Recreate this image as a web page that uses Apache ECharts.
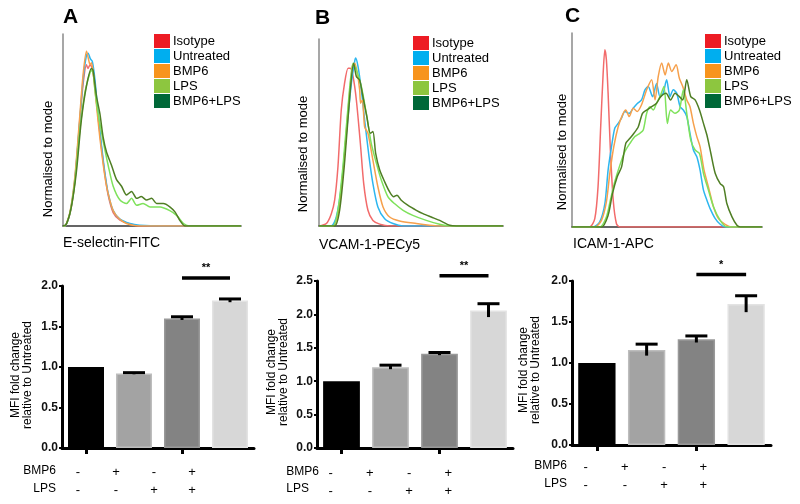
<!DOCTYPE html>
<html><head><meta charset="utf-8">
<script src="https://cdn.jsdelivr.net/npm/echarts@6/dist/echarts.min.js"></script>
<style>html,body{margin:0;padding:0;background:#fff}#c{width:800px;height:504px}</style>
</head><body><div id="c"></div>
<script>
// ---------- DATA ----------
const seriesNames = ['Isotype', 'Untreated', 'BMP6', 'LPS', 'BMP6+LPS'];
const conditions = ['Untreated', 'BMP6', 'LPS', 'BMP6+LPS'];
const bmp6Signs = ['-', '+', '-', '+'];
const lpsSigns = ['-', '-', '+', '+'];
const histXTitles = ['E-selectin-FITC', 'VCAM-1-PECy5', 'ICAM-1-APC'];
const panelLetters = ['A', 'B', 'C'];

// Histograms: [fluorescence (% of axis), count normalised to mode (% of axis height)]
const histA_Isotype = [[0,0],[0.9,0],[3.8,6],[6.6,23],[9.4,54],[11.3,74],[13.2,84],[14,82],[15.2,84],[16.5,82],[18,72],[19.7,57],[21.6,41],[23.5,27],[25.4,16],[28.2,7],[32,3],[37.6,1],[43,0],[100,0]];
const histA_Untreated = [[0,0],[0.9,0],[3.8,6.3],[6.6,24],[9.4,55],[11.3,76.6],[13.2,89],[14.1,90],[15.4,87],[16.5,85.6],[17.9,76.6],[19.7,58.6],[21.6,42.3],[23.5,28],[25.4,17],[28.2,8],[32,3.6],[37.6,1.3],[43,0.4],[56,0],[100,0]];
const histA_BMP6 = [[0,0],[0.9,0],[3.8,6.8],[6.6,25],[9.4,57],[11.3,79],[13.2,91],[14.3,87],[15.2,84],[16,85],[17.2,78],[18.8,63],[20.7,46],[22.6,32],[24.4,21],[26.3,13.5],[28.2,8],[30,5.4],[32.9,2.8],[35.7,1.3],[40,0.3],[45,0],[100,0]];
const histA_LPS = [[0,0],[0.9,0],[3.8,6.3],[6.6,22.5],[9.4,49.5],[12.2,69],[14.7,78.4],[16,81],[16.9,80],[17.9,71],[19.7,58.6],[22.6,44],[25.4,31.5],[28.2,20.7],[32,13.5],[35.7,11.7],[38.5,14.4],[41.4,10.8],[45,11.7],[48.9,9.9],[54.5,9.9],[60,8],[64,5.4],[67.7,1.3],[71.4,0],[100,0]];
const histA_BMP6LPS = [[0,0],[1.9,1],[4.7,10],[7.5,28],[10.3,55],[13.2,73],[16,82],[16.9,81],[18.8,67.6],[20.7,58.6],[22.6,46],[24.4,38.7],[27.3,31.5],[30,24.3],[32.9,20.7],[35.7,16.2],[38.5,18],[41.4,14.4],[44,15.3],[47,13.5],[49.8,14.4],[52.6,11.7],[56.4,11.7],[60,10],[63,7.2],[65.8,2.7],[68.6,0],[100,0]];

const histB_Isotype = [[0,0],[4,1.3],[6.7,6.6],[8.5,13.8],[10.3,31.7],[12.1,62],[13.9,76.4],[15.8,84.4],[17,84.4],[18.5,80],[20.3,67.4],[22.5,44],[24.3,22.7],[26.6,8.4],[29.3,3],[33,1],[38.4,0],[100,0]];
const histB_Untreated = [[0,0],[6.7,0],[9.4,4.8],[12.1,21],[14.9,49.6],[17.6,76.4],[19.4,88],[19.9,89.8],[21.2,85.3],[23,72.8],[24.8,56.7],[27.2,37],[29.3,22.7],[32,10.2],[35.7,3.9],[40.2,1.3],[45.6,0],[100,0]];
const histB_BMP6 = [[0,0],[7.6,0],[10.3,6.6],[13,28],[15.8,62],[18.1,85.3],[19.4,87],[20.8,81.8],[22.1,72.8],[22.6,65.7],[23.6,67.4],[24.8,53],[26.6,49.6],[29.3,35.2],[32,21],[34.8,10.2],[38.4,4.8],[43.8,2.7],[52.9,1.3],[60,0.4],[65,0],[100,0]];
const histB_LPS = [[0,0],[7.6,0],[10.3,8.4],[13,31.7],[15.8,63.9],[18.5,87],[20.3,83.5],[23,74.6],[25.7,60.3],[28.4,44.2],[31.2,33.5],[33.9,24.5],[37.5,15.6],[41,12],[45.7,8.4],[51,5.7],[58.3,3],[65.6,0.9],[71,0],[100,0]];
const histB_BMP6LPS = [[0,0],[8.5,0],[11.2,8.4],[14,35],[16.7,69],[18.8,87],[20.3,80],[22.1,78],[23.9,69],[26,58.5],[27.9,49.6],[29.3,50.5],[30.8,38.8],[33,29.9],[35.7,23.6],[38.4,18.2],[40.6,15.6],[42.4,16.5],[44.7,13.8],[48.4,11],[52.9,8.4],[56.5,6.6],[61,4.8],[65.6,3],[71,0.4],[74.6,0],[100,0]];

const histC_Isotype = [[0,0],[9.3,0],[12,4.3],[13.7,20.7],[15.1,51.7],[16.4,79.3],[17.3,91.4],[18.1,86.2],[19,69],[20.2,39.7],[21.7,13.8],[23.4,1.7],[25.2,0],[100,0]];
const histC_Untreated = [[0,0],[11.1,0],[14.6,2.6],[17.3,12],[19,29.3],[20.8,41.4],[22.5,50.9],[24.3,53.4],[26,56],[27.8,59.5],[30.1,58.6],[32.2,61.2],[34.5,63.8],[36.6,65.5],[38.4,70.7],[40.1,72.4],[42.4,67.2],[44.5,74],[46.3,67.2],[48,69],[49.8,75.9],[51.6,67.2],[53.3,70.7],[55.1,69],[56.9,62],[58.6,60.3],[60.4,57],[62.1,48.3],[63.9,39.7],[65.7,36.2],[67.4,29.3],[69.2,19],[71,13.8],[72.7,9.5],[75.4,4.3],[78,1.4],[80.6,0],[100,0]];
const histC_BMP6 = [[0,0],[12,0],[15.5,3.4],[18.1,12.9],[19.9,27.6],[22,41.4],[24.3,51.7],[26.6,57.8],[28.3,60.3],[30.1,56.9],[32.2,61.2],[34.3,59.5],[36.6,63],[39.3,70.7],[41.9,75.9],[43.7,65.5],[45.4,77.6],[47.2,84.5],[49,78.4],[50.7,84.5],[52.5,80.2],[54.8,83.6],[56.5,76.7],[58.3,72.4],[60.4,65.5],[62.1,62],[63.9,53.4],[65.7,46.6],[67.4,41.4],[69.5,29.3],[71.8,20.7],[74.5,10.3],[77.1,4.3],[80.6,1.4],[84.2,0],[100,0]];
const histC_LPS = [[0,0],[14.6,0],[18.1,5.2],[20.2,13.8],[22.5,23.3],[25.2,31.9],[27.8,38.8],[30.5,43.1],[33.1,46.6],[35.7,48.3],[37.5,50],[39.3,58.6],[41,62],[42.8,60.3],[44.5,63.8],[46.3,67.2],[48.4,72.4],[50.2,53.4],[51.9,60.3],[54.2,58.6],[56.5,60.3],[58.6,70.7],[60.4,58.6],[62.5,44.8],[64.8,39.7],[67.1,37.9],[69.2,27.6],[71.8,19],[74.5,10.3],[78,3.4],[81.5,0],[100,0]];
const histC_BMP6LPS = [[0,0],[15.5,0],[19,6],[21.3,17.2],[23.8,25.9],[26.1,31],[28.3,43.1],[30.5,45.7],[32.6,48.3],[34.9,51.7],[37.1,58.6],[39.3,60.3],[41.9,62],[44.5,63.8],[46.7,67.2],[49.5,69],[51.9,65.5],[54.2,69],[56.5,67.2],[58.3,65.5],[60.4,75.9],[62.5,67.2],[64.8,65.5],[67.1,60.3],[69.2,53.4],[71,47.4],[73.1,37.9],[75.4,27.6],[78,22.4],[79.8,20.7],[81.5,12.1],[84.2,5.2],[86.8,0.9],[88.6,0],[100,0]];

// MFI fold change relative to Untreated (bar = mean, err = mean + SEM)
const mfiA = [1.00, 0.92, 1.60, 1.82];
const errA = [null, 0.93, 1.62, 1.84];
const mfiB = [1.00, 1.21, 1.41, 2.06];
const errB = [null, 1.24, 1.43, 2.16];
const mfiC = [1.00, 1.16, 1.29, 1.72];
const errC = [null, 1.23, 1.33, 1.82];
const yMaxBars = [2.0, 2.5, 2.0];
// significance: [from index, to index, height, label]
const sigA = [2, 3, 2.10, '**'];
const sigB = [2, 3, 2.58, '**'];
const sigC = [2, 3, 2.08, '*'];

// ---------- STYLE / LAYOUT ----------
const LINE_COLORS = ['#f26b6b', '#2db6ef', '#f6a04c', '#7fe25c', '#4f7e24'];
const LEGEND_COLORS = ['#ed1c24', '#00aeef', '#f7941d', '#8dc63f', '#006838'];
const BAR_COLORS = ['#000000', '#a3a3a3', '#838383', '#d7d7d7'];
const BAR_BORDERS = ['#000000', '#bdbdbd', '#999999', '#e3e3e3'];
const FONT = "'Liberation Sans', Arial, sans-serif";
const FONT_N = "'Liberation Sans Narrow', 'Arial Narrow', 'Liberation Sans', Arial, sans-serif";

const histGrids = [
  {left: 63, top: 34, width: 178, height: 192},
  {left: 319, top: 39, width: 184, height: 187},
  {left: 572, top: 33, width: 190, height: 194}
];
const barGrids = [
  {left: 62, top: 286, width: 192, height: 162},
  {left: 317, top: 281, width: 196, height: 167},
  {left: 572, top: 281, width: 199, height: 164}
];
const signGrids = [
  {left: 59, top: 456, width: 152, height: 1},
  {left: 311, top: 457, width: 157, height: 1},
  {left: 566, top: 451, width: 157, height: 1}
];
const legendPos = [{left: 154, top: 34}, {left: 413, top: 36}, {left: 705, top: 34}];

const histData = [
  [histA_Isotype, histA_Untreated, histA_BMP6, histA_LPS, histA_BMP6LPS],
  [histB_Isotype, histB_Untreated, histB_BMP6, histB_LPS, histB_BMP6LPS],
  [histC_Isotype, histC_Untreated, histC_BMP6, histC_LPS, histC_BMP6LPS]
];
const mfi = [mfiA, mfiB, mfiC];
const errs = [errA, errB, errC];
const sigs = [sigA, sigB, sigC];

const grid = [], xAxis = [], yAxis = [], series = [], legend = [];

// histogram panels
histGrids.forEach((g, k) => {
  grid.push(g);
  xAxis.push({type: 'value', gridIndex: k, min: 0, max: 100,
    axisLine: {show: true, onZero: false, lineStyle: {color: '#333', width: 1.5}},
    axisTick: {show: false}, axisLabel: {show: false}, splitLine: {show: false}});
  yAxis.push({type: 'value', gridIndex: k, min: 0, max: 100,
    axisLine: {show: true, lineStyle: {color: '#8a8a8a', width: 1.5}},
    axisTick: {show: false}, axisLabel: {show: false}, splitLine: {show: false}});
  seriesNames.forEach((n, s) => {
    series.push({type: 'line', name: n, xAxisIndex: k, yAxisIndex: k,
      data: histData[k][s], showSymbol: false, smooth: 0.25, silent: true,
      color: LINE_COLORS[s], lineStyle: {width: 1.5, color: LINE_COLORS[s]}, z: 2 + s});
  });
  legend.push({orient: 'vertical', left: legendPos[k].left, top: legendPos[k].top, padding: 0,
    itemWidth: 16, itemHeight: 14, itemGap: 1, icon: 'rect', selectedMode: false,
    textStyle: {fontSize: 13, fontFamily: FONT, color: '#000', lineHeight: 14, padding: [0, 0, 0, -2]},
    data: seriesNames.map((n, s) => ({name: n, itemStyle: {color: LEGEND_COLORS[s], borderWidth: 0}}))});
});

// bar panels
barGrids.forEach((g, k) => {
  const gi = 3 + k;
  grid.push(g);
  xAxis.push({type: 'category', gridIndex: gi, data: conditions,
    axisLine: {show: true, lineStyle: {color: '#000', width: 3}},
    axisTick: {show: true, alignWithLabel: true, length: 6, lineStyle: {color: '#000', width: 3}},
    axisLabel: {show: false}, splitLine: {show: false}});
  yAxis.push({type: 'value', gridIndex: gi, min: 0, max: yMaxBars[k], interval: 0.5,
    axisLine: {show: true, lineStyle: {color: '#000', width: 3}},
    axisTick: {show: true, length: 3, lineStyle: {color: '#000', width: 2}},
    axisLabel: {show: true, margin: 4, fontSize: 12, fontWeight: 'bold', fontFamily: FONT_N, color: '#111',
      formatter: v => v.toFixed(1)},
    splitLine: {show: false}});
  series.push({type: 'bar', name: 'MFI ' + panelLetters[k], xAxisIndex: gi, yAxisIndex: gi, barWidth: '75%',
    silent: true,
    data: mfi[k].map((v, i) => ({value: v, itemStyle: {color: BAR_COLORS[i], borderColor: BAR_BORDERS[i], borderWidth: 1.5}}))});
  const eData = [];
  errs[k].forEach((t, i) => { if (t != null) eData.push([i, mfi[k][i], t]); });
  series.push({type: 'custom', name: 'SEM ' + panelLetters[k], xAxisIndex: gi, yAxisIndex: gi, silent: true, clip: false, z: 5,
    data: eData,
    renderItem: (params, api) => {
      const x = api.value(0), m = api.value(1), t = api.value(2);
      const pTop = api.coord([x, t]);
      const pLow = api.coord([x, 2 * m - t]);
      const st = {stroke: '#000', lineWidth: 3};
      return {type: 'group', children: [
        {type: 'line', shape: {x1: pTop[0], y1: pLow[1], x2: pTop[0], y2: pTop[1]}, style: st},
        {type: 'line', shape: {x1: pTop[0] - 11, y1: pTop[1], x2: pTop[0] + 11, y2: pTop[1]}, style: st}
      ]};
    }});
  const sg = sigs[k];
  series.push({type: 'custom', name: 'sig ' + panelLetters[k], xAxisIndex: gi, yAxisIndex: gi, silent: true, clip: false, z: 5,
    data: [[sg[0], sg[1], sg[2]]],
    renderItem: (params, api) => {
      const p1 = api.coord([api.value(0), api.value(2)]);
      const p2 = api.coord([api.value(1), api.value(2)]);
      return {type: 'group', children: [
        {type: 'line', shape: {x1: p1[0], y1: p1[1], x2: p2[0], y2: p2[1]}, style: {stroke: '#000', lineWidth: 3.5}},
        {type: 'text', x: (p1[0] + p2[0]) / 2, y: p1[1] - 4,
          style: {text: sg[3], fill: '#000', font: 'bold 11px ' + FONT, align: 'center', verticalAlign: 'bottom'}}
      ]};
    }});
});

// sign rows (BMP6 / LPS)
signGrids.forEach((g, k) => {
  const gi = 6 + k;
  grid.push(g);
  xAxis.push({type: 'category', gridIndex: gi, data: bmp6Signs.map((s, i) => s + '\n' + lpsSigns[i]),
    axisLine: {show: false}, axisTick: {show: false},
    axisLabel: {show: true, margin: 6, fontSize: 13, lineHeight: 18, fontFamily: FONT_N, color: '#000', interval: 0}});
  yAxis.push({type: 'value', gridIndex: gi, show: false});
});

// text annotations
const graphic = [];
const letterPos = [[63, 7], [315, 8], [565, 6]];
letterPos.forEach((p, k) => graphic.push({type: 'text', left: p[0], top: p[1],
  style: {text: panelLetters[k], font: 'bold 21px ' + FONT, fill: '#000'}}));
const xTitlePos = [[63, 243], [319, 245], [573, 244]];
xTitlePos.forEach((p, k) => graphic.push({type: 'text', x: p[0], y: p[1],
  style: {text: histXTitles[k], font: '14px ' + FONT, fill: '#000', textAlign: 'left', textVerticalAlign: 'middle'}}));
const yTitlePos = [[48, 159], [303, 154], [562, 152]];
yTitlePos.forEach(p => graphic.push({type: 'text', x: p[0], y: p[1], rotation: Math.PI / 2,
  style: {text: 'Normalised to mode', font: '13px ' + FONT, fill: '#000', textAlign: 'center', textVerticalAlign: 'middle'}}));
const barTitlePos = [[22, 375], [278, 372], [530, 370]];
barTitlePos.forEach(p => graphic.push({type: 'text', x: p[0], y: p[1], rotation: Math.PI / 2,
  style: {text: 'MFI fold change\nrelative to Untreated', font: '12px ' + FONT, lineHeight: 12, fill: '#000', textAlign: 'center', textVerticalAlign: 'middle'}}));
const rowLabelPos = [[56, 471, 56, 489], [319, 472, 309, 489], [567, 466, 567, 484]];
rowLabelPos.forEach(p => {
  graphic.push({type: 'text', x: p[0], y: p[1], style: {text: 'BMP6', font: '12px ' + FONT_N, fill: '#000', textAlign: 'right', textVerticalAlign: 'middle'}});
  graphic.push({type: 'text', x: p[2], y: p[3], style: {text: 'LPS', font: '12px ' + FONT_N, fill: '#000', textAlign: 'right', textVerticalAlign: 'middle'}});
});

const chart = echarts.init(document.getElementById('c'), null, {renderer: 'canvas'});
chart.setOption({
  animation: false,
  backgroundColor: '#fff',
  textStyle: {fontFamily: FONT},
  grid, xAxis, yAxis, series, legend, graphic
});
</script></body></html>
